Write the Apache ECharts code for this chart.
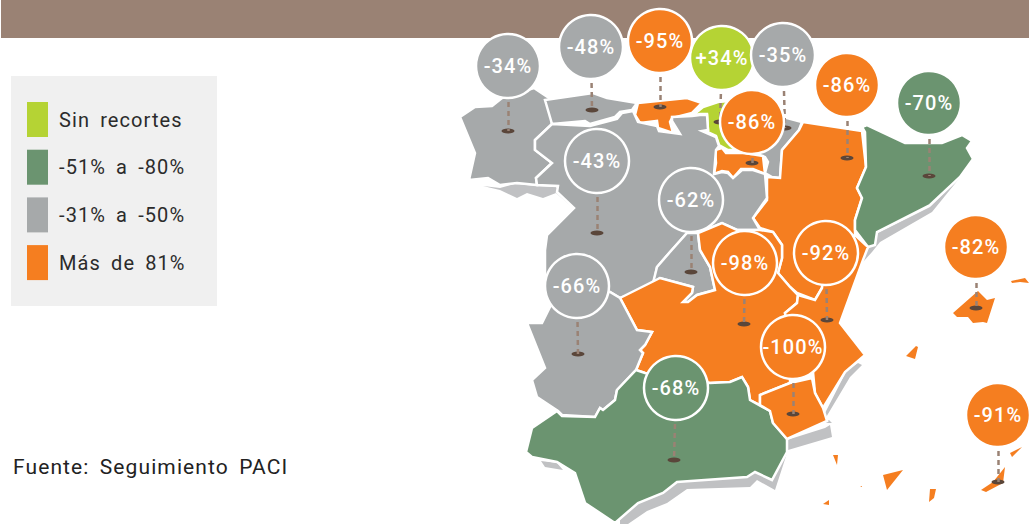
<!DOCTYPE html>
<html>
<head>
<meta charset="utf-8">
<title>Recortes por comunidad</title>
<script src="https://cdn.jsdelivr.net/npm/echarts@6/dist/echarts.min.js"></script>
<style>
    html, body { margin: 0; padding: 0; background: #fff; }
    #main { width: 1029px; height: 524px; }
    #main text { letter-spacing: 1.1px; word-spacing: 4px; }
</style>
</head>
<body>
<div id="main"></div>
<script>
    // categorias de la leyenda
    const classNames = ['Sin recortes', '-51% a -80%', '-31% a -50%', 'Más de 81%']
    const classColors = ['#b5d334', '#6b9470', '#a6a9aa', '#f57e20']

    // una entrada por comunidad, mismo orden en todas las listas
    const regionNames = ['Galicia', 'Asturias', 'Cantabria', 'País Vasco', 'Navarra', 'La Rioja', 'Aragón', 'Cataluña',
        'Castilla y León', 'Madrid', 'Castilla-La Mancha', 'C. Valenciana', 'Extremadura', 'Andalucía', 'Murcia', 'Baleares', 'Canarias']
    const regionValues = [-34, -48, -95, 34, -35, -86, -86, -70, -43, -62, -98, -92, -66, -68, -100, -82, -91]
    const regionClass = [2, 2, 3, 0, 2, 3, 3, 1, 2, 2, 3, 3, 2, 1, 3, 3, 3]

    // posicion de cada burbuja y de su punto en el mapa (unidades del mapa)
    const bubbleCoords = [[508, 66], [591, 47], [660, 41], [722, 58], [783, 55], [752, 122], [847, 85], [929, 103],
        [597, 161], [691, 200], [745, 263], [826, 253], [577, 286], [676, 388], [793, 347], [976, 247], [998, 415]]
    const pinCoords = [[508, 131], [592, 110], [660, 107], [720, 122], [785, 128], [752, 163], [847, 158], [929, 176],
        [597, 233], [691, 272], [744, 324], [827, 320], [578, 354], [674, 460], [793, 414], [976, 308], [998, 482]]

    // contornos
    const regionShapes = [
        [[[460, 117], [475, 107], [492, 106], [502, 98], [534, 88], [549, 98], [552, 124], [535, 140], [535, 150], [552, 163], [536, 178], [537, 185], [517, 183], [500, 185], [488, 178], [469, 180], [475, 153]]],
        [[[545, 100], [593, 93], [607, 98], [637, 103], [632, 110], [620, 112], [615, 117], [590, 124], [585, 121], [552, 124]]],
        [[[638, 103], [687, 98], [702, 103], [692, 113], [672, 118], [670, 122], [673, 133], [658, 128], [657, 121], [640, 123], [635, 115]]],
        [[[692, 116], [703, 107], [718, 102], [740, 100], [752, 122], [745, 150], [728, 150], [719, 145], [716, 136], [703, 130], [708, 130], [707, 114], [700, 114]]],
        [[[745, 100], [787, 118], [802, 122], [799, 130], [782, 150], [780, 178], [772, 177], [765, 173], [768, 162], [765, 157], [745, 150]]],
        [[[715, 150], [722, 148], [726, 153], [745, 153], [763, 156], [765, 174], [753, 169], [741, 169], [733, 178], [728, 172], [722, 171], [714, 174], [716, 163]]],
        [[[803, 122], [862, 131], [866, 167], [857, 188], [862, 198], [855, 220], [855, 235], [826, 255], [822, 288], [815, 300], [797, 293], [790, 287], [778, 273], [782, 258], [782, 245], [773, 232], [760, 228], [753, 218], [767, 200], [767, 177], [780, 178], [782, 150], [799, 130]]],
        [[[862, 127], [867, 125], [905, 143], [942, 143], [962, 135], [972, 141], [967, 148], [973, 159], [960, 177], [930, 205], [877, 232], [875, 245], [868, 247], [855, 230], [855, 220], [862, 198], [857, 188], [866, 167], [865, 132]]],
        [[[552, 124], [590, 126], [617, 119], [622, 113], [633, 111], [638, 122], [657, 126], [659, 131], [680, 134], [672, 121], [672, 117], [692, 116], [700, 115], [707, 115], [708, 130], [702, 131], [716, 137], [719, 146], [716, 150], [714, 174], [722, 172], [728, 173], [733, 178], [742, 170], [753, 170], [765, 174], [767, 198], [753, 218], [760, 230], [737, 230], [722, 223], [698, 233], [687, 233], [670, 252], [657, 267], [653, 287], [620, 298], [610, 292], [560, 290], [545, 290], [545, 250], [547, 235], [574, 208], [557, 192], [558, 186], [537, 185], [536, 178], [552, 163], [535, 150], [535, 140]]],
        [[[698, 233], [687, 233], [670, 252], [657, 267], [653, 283], [660, 278], [693, 287], [692, 293], [683, 302], [688, 302], [697, 295], [715, 290], [710, 267], [700, 250]]],
        [[[620, 298], [660, 278], [693, 287], [692, 293], [683, 302], [688, 302], [697, 295], [715, 290], [710, 267], [700, 250], [698, 233], [722, 223], [737, 230], [760, 230], [773, 232], [782, 245], [782, 258], [778, 273], [790, 287], [798, 295], [797, 303], [785, 313], [790, 345], [790, 383], [760, 395], [760, 405], [750, 400], [748, 387], [742, 377], [730, 382], [710, 383], [645, 373], [636, 370], [643, 353], [640, 350], [645, 345], [652, 332], [637, 330]]],
        [[[855, 235], [868, 247], [863, 260], [840, 323], [865, 355], [845, 372], [823, 408], [815, 393], [813, 372], [790, 345], [785, 313], [797, 303], [798, 295], [815, 300], [822, 288], [826, 255]]],
        [[[545, 290], [610, 292], [620, 298], [637, 330], [652, 332], [645, 345], [640, 350], [643, 353], [636, 370], [617, 390], [615, 400], [603, 410], [600, 408], [595, 417], [562, 415], [558, 411], [537, 397], [532, 380], [545, 368], [535, 343], [527, 323], [542, 323], [550, 307]]],
        [[[557, 411], [562, 416], [595, 417], [600, 408], [603, 410], [615, 400], [617, 390], [636, 370], [645, 373], [710, 383], [730, 382], [742, 377], [748, 387], [750, 400], [770, 411], [773, 423], [787, 439], [787, 452], [772, 480], [755, 472], [747, 477], [677, 482], [663, 493], [638, 503], [615, 523], [585, 503], [575, 473], [557, 462], [532, 457], [526, 452], [532, 428]]],
        [[[760, 395], [790, 383], [812, 378], [815, 393], [823, 408], [827, 421], [787, 439], [773, 423], [770, 411], [760, 405]]],
        [
            [[[953, 313], [978, 291], [987, 300], [995, 298], [987, 323], [983, 322], [973, 323], [968, 317], [957, 317]]],
            [[[1011, 281], [1025, 278], [1029, 283], [1020, 282], [1012, 283]]],
            [[[906, 356], [916, 346], [918, 347], [915, 359]]]
        ],
        [
            [[[1010, 453], [1022, 447], [1012, 457]]],
            [[[981, 490], [993, 482], [1005, 467], [1003, 483], [986, 492]]],
            [[[883, 475], [903, 470], [887, 490]]],
            [[[930, 489], [936, 489], [934, 498], [929, 502]]],
            [[[833, 455], [838, 455], [837, 465]]],
            [[[823, 504], [829, 500], [829, 505]]],
            [[[860, 486], [862, 486], [862, 487]]]
        ]
    ]

    // sombra gris de la costa
    const shadowShape = [
        [[[483, 186], [500, 188], [515, 184], [537, 186], [556, 187], [559, 191], [573, 208], [556, 193], [543, 198], [527, 193], [517, 198], [500, 190]]],
        [[[620, 510], [660, 480], [780, 440], [788, 450], [775, 490], [757, 480], [750, 487], [687, 489], [667, 503], [647, 511], [628, 524], [620, 524]]],
        [[[787, 440], [825, 428], [830, 425], [832, 437], [788, 450]]],
        [[[858, 363], [862, 365], [850, 377], [825, 419], [823, 417], [847, 370]]],
        [[[962, 175], [932, 212], [880, 242], [872, 252], [863, 262], [867, 250], [878, 233], [930, 207]]],
        [[[541, 461], [557, 463], [563, 470], [545, 467]]],
        [[[825, 423], [832, 423], [829, 420]]]
    ]

    const flip = pt => [pt[0], -pt[1]]
    const isMulti = shape => Array.isArray(shape[0][0][0])
    const feature = (name, shape) => {
        const multi = isMulti(shape)
        return {
            type: 'Feature',
            properties: { name },
            geometry: {
                type: multi ? 'MultiPolygon' : 'Polygon',
                coordinates: multi
                    ? shape.map(poly => poly.map(ring => ring.map(flip)))
                    : shape.map(ring => ring.map(flip))
            }
        }
    }

    echarts.registerMap('espana', {
        type: 'FeatureCollection',
        features: [feature('sombra', shadowShape)].concat(regionNames.map((n, i) => feature(n, regionShapes[i])))
    })

    const geoRegions = regionNames.map((name, i) => ({
        name,
        itemStyle: {
            areaColor: classColors[regionClass[i]],
            borderColor: '#fff',
            borderWidth: (name === 'Baleares' || name === 'Canarias') ? 0 : 2.5
        }
    }))
    geoRegions.push({ name: 'sombra', itemStyle: { areaColor: '#c0c1c3', borderWidth: 0 } })

    const bubbleSeries = classNames.map((name, c) => ({
        name,
        type: 'scatter',
        coordinateSystem: 'geo',
        geoIndex: 0,
        z: 5,
        silent: true,
        symbolSize: 64,
        itemStyle: { color: classColors[c], borderColor: '#fff', borderWidth: 2.5, opacity: 1 },
        label: {
            show: true,
            position: 'inside',
            formatter: p => (p.value[2] > 0 ? '+' : '') + p.value[2] + '%',
            fontFamily: 'Roboto',
            fontWeight: 500,
            fontSize: 20,
            color: '#fff'
        },
        data: regionValues
            .map((v, i) => ({ i, v }))
            .filter(d => regionClass[d.i] === c)
            .map(d => ({ name: regionNames[d.i], value: flip(bubbleCoords[d.i]).concat(d.v) }))
    }))

    const chart = echarts.init(document.getElementById('main'), null, { renderer: 'svg' })
    chart.setOption({
        animation: false,
        backgroundColor: '#fff',
        graphic: [
            { type: 'rect', z: -10, shape: { x: 1, y: 0, width: 1028, height: 38 }, style: { fill: '#9a8274' } },
            { type: 'rect', z: -10, shape: { x: 11, y: 76, width: 206, height: 230 }, style: { fill: '#f0f0f0' } }
        ],
        title: {
            text: 'Fuente: Seguimiento PACI',
            left: 8,
            top: 451,
            textStyle: { fontFamily: 'Roboto', fontWeight: 'normal', fontSize: 21, color: '#222' }
        },
        legend: {
            data: classNames,
            orient: 'vertical',
            left: 27,
            top: 102,
            padding: 0,
            icon: 'rect',
            itemWidth: 21,
            itemHeight: 35,
            itemGap: 12.7,
            selectedMode: false,
            itemStyle: { borderWidth: 0 },
            textStyle: { fontFamily: 'Roboto', fontSize: 20, color: '#2b2b2b', padding: [1, 0, 0, 6] }
        },
        geo: {
            map: 'espana',
            silent: true,
            roam: false,
            aspectScale: 1,
            boundingCoords: [[0, 0], [1029, -524]],
            left: 0,
            top: 0,
            width: 1029,
            height: 524,
            label: { show: false },
            itemStyle: { areaColor: '#a6a9aa', borderColor: '#fff', borderWidth: 2.5 },
            regions: geoRegions
        },
        series: [
            {
                type: 'lines',
                coordinateSystem: 'geo',
                geoIndex: 0,
                z: 4,
                silent: true,
                polyline: false,
                lineStyle: { color: '#9a8274', width: 2.5, type: [5, 4], opacity: 1, curveness: 0 },
                data: bubbleCoords.map((b, i) => ({ coords: [flip(b), flip(pinCoords[i])] }))
            },
            {
                type: 'scatter',
                coordinateSystem: 'geo',
                geoIndex: 0,
                z: 3,
                silent: true,
                symbol: 'path://M0 5a10 5 0 1 0 20 0a10 5 0 1 0-20 0z',
                symbolKeepAspect: false,
                symbolSize: [13, 5],
                itemStyle: { color: '#5a463a', opacity: 1 },
                data: pinCoords.map(flip)
            }
        ].concat(bubbleSeries)
    })
</script>
</body>
</html>
